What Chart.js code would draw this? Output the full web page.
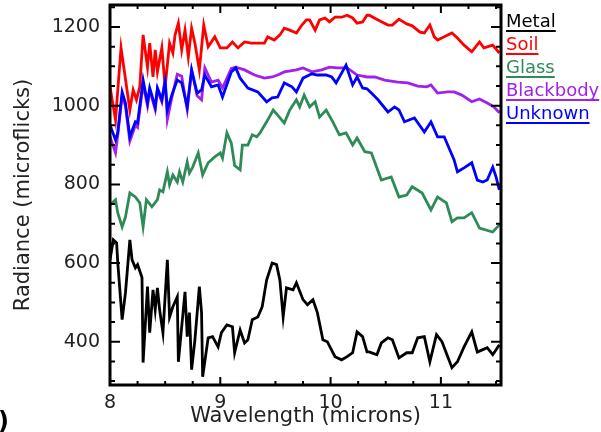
<!DOCTYPE html>
<html lang="en">
<head>
<meta charset="UTF-8">
<title>Radiance spectra</title>
<script src="https://cdn.jsdelivr.net/npm/chart.js"></script>
<style>
    html, body { margin: 0; padding: 0; background: #fff; }
</style>
</head>
<body>
<canvas id="chart" width="601" height="432"></canvas>

<script>
    // wavelength (microns) and radiance (microflicks)
    var metalWl = [8.00, 8.03, 8.06, 8.07, 8.11, 8.14, 8.15, 8.18, 8.20, 8.23, 8.25, 8.29, 8.30, 8.34, 8.36, 8.39, 8.41, 8.43, 8.45, 8.48,
        8.52, 8.54, 8.57, 8.61, 8.62, 8.65, 8.68, 8.70, 8.72, 8.74, 8.77, 8.81, 8.83, 8.84, 8.89, 8.93, 8.98, 9.01, 9.06, 9.11,
        9.13, 9.18, 9.22, 9.25, 9.29, 9.34, 9.38, 9.42, 9.47, 9.51, 9.54, 9.57, 9.60, 9.66, 9.69, 9.75, 9.79, 9.84, 9.88, 9.93,
        9.97, 10.04, 10.10, 10.15, 10.20, 10.24, 10.29, 10.33, 10.35, 10.42, 10.46, 10.52, 10.56, 10.62, 10.69, 10.74, 10.79, 10.85, 10.90, 10.96,
        11.01, 11.10, 11.15, 11.21, 11.28, 11.33, 11.38, 11.42, 11.47, 11.53];
    var metal = [608, 659, 651, 603, 456, 524, 557, 659, 608, 588, 596, 563, 347, 540, 423, 532, 481, 537, 481, 423,
        608, 463, 489, 514, 349, 438, 527, 413, 474, 329, 405, 540, 474, 311, 410, 413, 387, 423, 443, 438,
        372, 430, 397, 405, 456, 463, 489, 557, 600, 596, 557, 463, 537, 532, 550, 507, 494, 507, 474, 405,
        400, 362, 354, 362, 372, 425, 413, 374, 374, 367, 397, 410, 405, 359, 372, 372, 410, 413, 349, 418,
        400, 334, 349, 387, 425, 374, 380, 385, 367, 392];

    var soilWl = [8.00, 8.05, 8.10, 8.18, 8.21, 8.24, 8.27, 8.30, 8.34, 8.36, 8.39, 8.41, 8.43, 8.47, 8.50, 8.54, 8.57, 8.59, 8.62, 8.65,
        8.68, 8.71, 8.74, 8.77, 8.81, 8.85, 8.89, 8.95, 9.00, 9.06, 9.11, 9.16, 9.22, 9.28, 9.40, 9.43, 9.49, 9.54, 9.58, 9.63,
        9.69, 9.74, 9.78, 9.81, 9.86, 9.90, 9.95, 9.99, 10.04, 10.10, 10.15, 10.20, 10.24, 10.29, 10.33, 10.35, 10.43, 10.52, 10.56, 10.62,
        10.69, 10.74, 10.81, 10.85, 10.90, 10.94, 10.97, 11.03, 11.10, 11.15, 11.21, 11.28, 11.35, 11.39, 11.47, 11.53];
    var soil = [1048, 964, 1147, 989, 1040, 1015, 1048, 1180, 1098, 1159, 1073, 1142, 1086, 1147, 1048, 1159, 1134, 1180, 1210, 1142,
        1192, 1124, 1197, 1159, 1091, 1205, 1150, 1175, 1147, 1147, 1162, 1147, 1162, 1159, 1159, 1175, 1167, 1180, 1197, 1192,
        1185, 1205, 1218, 1218, 1192, 1218, 1223, 1213, 1225, 1225, 1230, 1223, 1210, 1213, 1230, 1230, 1218, 1205, 1205, 1220,
        1208, 1203, 1187, 1185, 1205, 1175, 1167, 1175, 1185, 1172, 1154, 1137, 1162, 1147, 1154, 1134];

    var glassWl = [8.00, 8.05, 8.07, 8.11, 8.14, 8.18, 8.23, 8.27, 8.30, 8.33, 8.38, 8.43, 8.45, 8.48, 8.52, 8.54, 8.57, 8.61, 8.63, 8.66,
        8.70, 8.72, 8.75, 8.80, 8.84, 8.89, 8.95, 9.00, 9.02, 9.06, 9.10, 9.13, 9.18, 9.20, 9.25, 9.29, 9.33, 9.36, 9.42, 9.48,
        9.52, 9.58, 9.63, 9.69, 9.72, 9.76, 9.81, 9.86, 9.90, 9.96, 10.02, 10.08, 10.14, 10.20, 10.24, 10.31, 10.37, 10.46, 10.55, 10.62,
        10.69, 10.74, 10.83, 10.91, 10.97, 11.05, 11.10, 11.15, 11.21, 11.28, 11.35, 11.47, 11.53];
    var glass = [748, 761, 728, 692, 717, 778, 768, 753, 692, 761, 743, 761, 786, 781, 832, 799, 824, 806, 832, 806,
        857, 829, 844, 880, 824, 855, 870, 880, 867, 931, 905, 848, 837, 900, 900, 926, 921, 931, 959, 989,
        976, 956, 989, 1015, 997, 1027, 997, 1010, 971, 989, 959, 926, 931, 900, 918, 883, 880, 811, 819, 768,
        773, 794, 778, 735, 768, 753, 705, 715, 715, 728, 689, 679, 697];

    var blackbodyWl = [8.00, 8.05, 8.07, 8.11, 8.14, 8.18, 8.23, 8.25, 8.30, 8.34, 8.36, 8.41, 8.43, 8.47, 8.50, 8.52, 8.56, 8.61, 8.65, 8.70,
        8.74, 8.79, 8.83, 8.86, 8.92, 8.98, 9.02, 9.10, 9.14, 9.22, 9.31, 9.40, 9.47, 9.52, 9.58, 9.69, 9.75, 9.83, 9.92, 9.99,
        10.06, 10.15, 10.24, 10.33, 10.40, 10.49, 10.61, 10.70, 10.79, 10.87, 10.91, 10.97, 11.06, 11.12, 11.19, 11.28, 11.35, 11.42, 11.48, 11.53];
    var blackbody = [921, 880, 925, 1025, 1000, 910, 950, 945, 1055, 1000, 1040, 990, 1040, 1010, 1070, 965, 1020, 1080, 1075, 990,
        1090, 1025, 1015, 1096, 1060, 1065, 1045, 1095, 1098, 1091, 1078, 1070, 1073, 1078, 1086, 1091, 1096, 1086, 1091, 1098,
        1096, 1096, 1078, 1073, 1073, 1065, 1060, 1058, 1050, 1048, 1053, 1032, 1035, 1035, 1027, 1010, 1017, 1007, 997, 982];

    var unknownWl = [8.00, 8.05, 8.07, 8.11, 8.14, 8.18, 8.23, 8.25, 8.30, 8.34, 8.36, 8.41, 8.43, 8.47, 8.50, 8.52, 8.56, 8.61, 8.65, 8.70,
        8.74, 8.79, 8.83, 8.86, 8.92, 8.98, 9.02, 9.10, 9.14, 9.18, 9.25, 9.34, 9.42, 9.47, 9.52, 9.58, 9.65, 9.69, 9.75, 9.83,
        9.88, 9.96, 10.01, 10.05, 10.14, 10.20, 10.24, 10.29, 10.33, 10.37, 10.43, 10.52, 10.58, 10.62, 10.67, 10.76, 10.85, 10.91, 10.97, 11.03,
        11.12, 11.15, 11.21, 11.28, 11.33, 11.38, 11.42, 11.47, 11.50, 11.53];
    var unknown = [951, 913, 931, 1035, 1007, 921, 959, 956, 1065, 1007, 1045, 997, 1045, 1015, 1060, 989, 1027, 1065, 1058, 997,
        1091, 1032, 1040, 1078, 1048, 1053, 1022, 1086, 1096, 1070, 1045, 1035, 1010, 1020, 1022, 1058, 1048, 1035, 1070, 1081,
        1078, 1078, 1073, 1058, 1103, 1053, 1073, 1045, 1043, 1032, 1015, 984, 997, 989, 959, 969, 933, 959, 921, 921,
        862, 832, 842, 855, 811, 806, 811, 844, 819, 786];

    var xTicks = [8, 9, 10, 11];
    var yTicks = [400, 600, 800, 1000, 1200];

    var FONT = 'DejaVu Sans';
    var TEXT = '#222';

    function pts(wl, vals) {
        return wl.map(function (w, i) { return { x: w, y: vals[i] }; });
    }

    function line(label, wl, vals, color, order) {
        return {
            label: label,
            data: pts(wl, vals),
            borderColor: color,
            borderWidth: 2.8,
            pointRadius: 0,
            tension: 0,
            fill: false,
            order: order
        };
    }

    // frame with inward ticks on all four sides, plus the underlined legend on the right
    var framePlugin = {
        id: 'frame',
        afterDraw: function (chart) {
            var ctx = chart.ctx, a = chart.chartArea;
            var x = chart.scales.x, y = chart.scales.y;
            ctx.save();
            ctx.strokeStyle = '#000';
            ctx.lineWidth = 2;
            ctx.beginPath();
            for (var v = 8; v <= 11.5 + 1e-6; v += 0.25) {
                var px = x.getPixelForValue(v);
                var len = Math.abs(v - Math.round(v)) < 1e-6 ? 8 : 4;
                ctx.moveTo(px, a.bottom); ctx.lineTo(px, a.bottom - len);
                ctx.moveTo(px, a.top); ctx.lineTo(px, a.top + len);
            }
            for (var w = 300; w <= 1250; w += 50) {
                var py = y.getPixelForValue(w);
                var l2 = w % 200 === 0 ? 10 : 5;
                ctx.moveTo(a.left, py); ctx.lineTo(a.left + l2, py);
                ctx.moveTo(a.right, py); ctx.lineTo(a.right - l2, py);
            }
            ctx.stroke();
            ctx.lineWidth = 3;
            ctx.strokeRect(a.left, a.top, a.right - a.left, a.bottom - a.top);

            // legend
            ctx.font = '18px "' + FONT + '"';
            ctx.textAlign = 'left';
            ctx.textBaseline = 'alphabetic';
            ctx.lineWidth = 2;
            chart.data.datasets.forEach(function (ds, i) {
                var ty = 27 + i * 23;
                ctx.fillStyle = ds.borderColor;
                ctx.strokeStyle = ds.borderColor;
                ctx.fillText(ds.label, 506, ty);
                var tw = ctx.measureText(ds.label).width;
                ctx.beginPath();
                ctx.moveTo(506, ty + 4);
                ctx.lineTo(506 + tw, ty + 4);
                ctx.stroke();
            });

            ctx.fillStyle = '#000';
            ctx.font = 'bold 24px "' + FONT + '"';
            ctx.textAlign = 'right';
            ctx.fillText(')', 9, 429);
            ctx.restore();
        }
    };

    var ctx = document.getElementById('chart').getContext('2d');
    new Chart(ctx, {
        type: 'line',
        data: {
            datasets: [
                line('Metal', metalWl, metal, '#000000', 5),
                line('Soil', soilWl, soil, '#ff0000', 4),
                line('Glass', glassWl, glass, '#2e8b57', 3),
                line('Blackbody', blackbodyWl, blackbody, '#a020f0', 2),
                line('Unknown', unknownWl, unknown, '#0000ff', 1)
            ]
        },
        options: {
            responsive: false,
            animation: false,
            devicePixelRatio: 1,
            layout: { padding: { left: 0, top: 5, right: 100, bottom: 0 } },
            plugins: {
                legend: { display: false },
                tooltip: { enabled: false }
            },
            scales: {
                x: {
                    type: 'linear',
                    min: 8,
                    max: 11.545,
                    grid: { display: false, drawTicks: false },
                    border: { display: false },
                    afterBuildTicks: function (s) { s.ticks = xTicks.map(function (v) { return { value: v }; }); },
                    afterFit: function (s) { s.height = 47; s.paddingLeft = 0; s.paddingRight = 0; },
                    ticks: {
                        padding: 7,
                        maxRotation: 0,
                        color: TEXT,
                        font: { family: FONT, size: 19 },
                        callback: function (v) { return String(v); }
                    },
                    title: {
                        display: true,
                        text: 'Wavelength (microns)',
                        color: TEXT,
                        font: { family: FONT, size: 21 },
                        padding: { top: 0, bottom: 3 }
                    }
                },
                y: {
                    min: 290,
                    max: 1256,
                    grid: { display: false, drawTicks: false },
                    border: { display: false },
                    afterBuildTicks: function (s) { s.ticks = yTicks.map(function (v) { return { value: v }; }); },
                    afterFit: function (s) { s.width = 110; s.paddingTop = 0; s.paddingBottom = 0; },
                    ticks: {
                        padding: 10,
                        color: TEXT,
                        font: { family: FONT, size: 19 },
                        callback: function (v) { return String(v); }
                    },
                    title: {
                        display: true,
                        text: 'Radiance (microflicks)',
                        color: TEXT,
                        font: { family: FONT, size: 21 },
                        padding: { top: 11, bottom: 0 }
                    }
                }
            }
        },
        plugins: [framePlugin]
    });
</script>
</body>
</html>
